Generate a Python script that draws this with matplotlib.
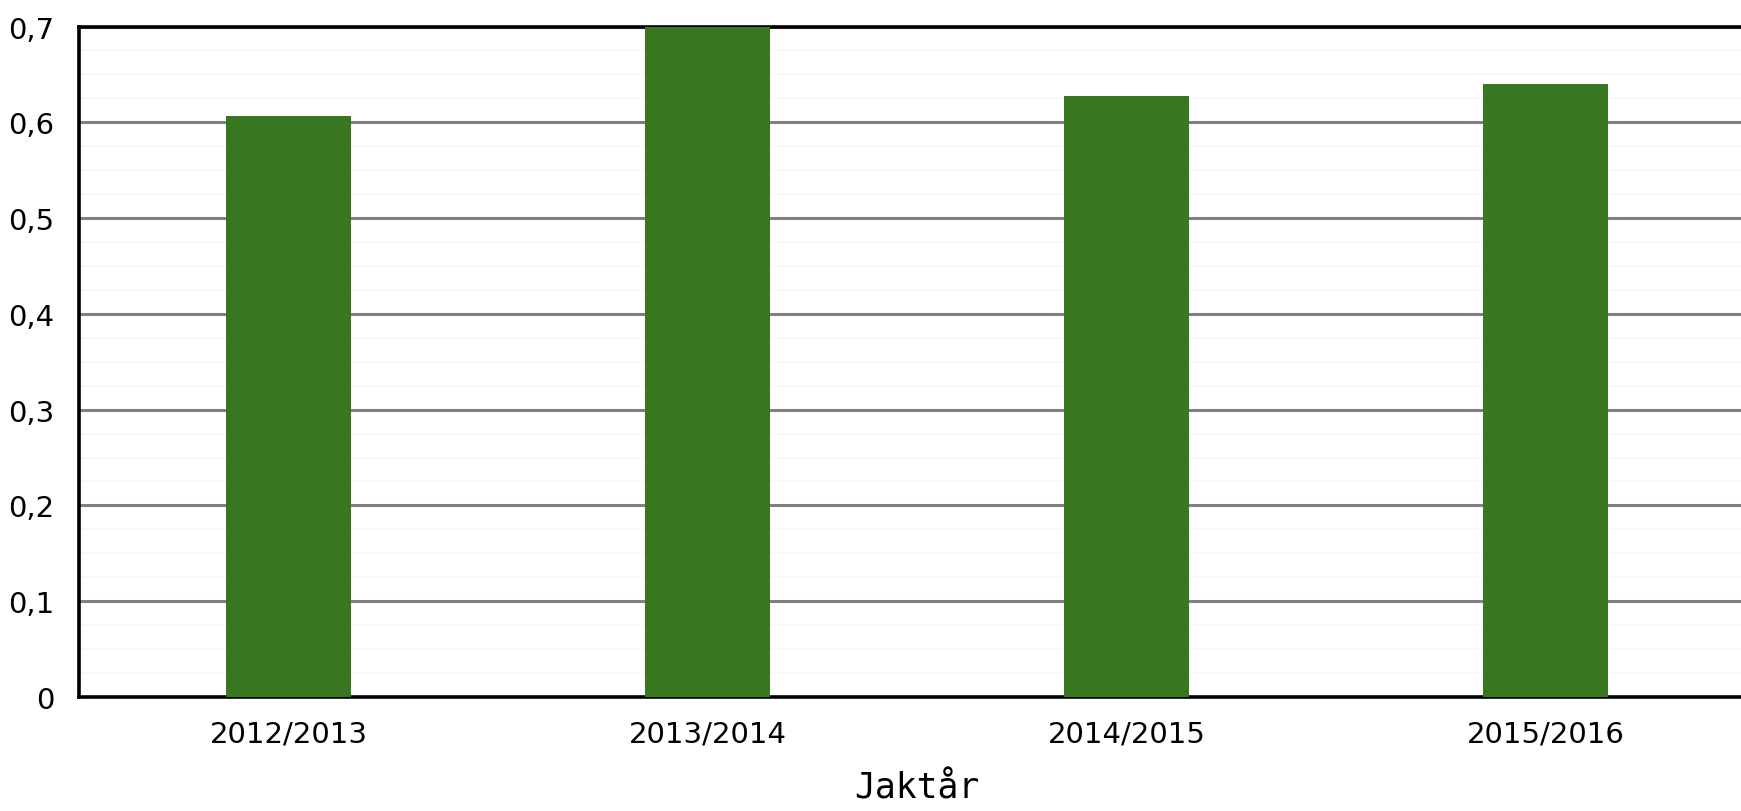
import matplotlib.pyplot as plt
from matplotlib.ticker import FuncFormatter, MultipleLocator
import numpy as np

# jaktår och värden
seasons = ["2012/2013", "2013/2014", "2014/2015", "2015/2016"]
values = [0.607, 0.71, 0.627, 0.640]

fig = plt.figure(figsize=(17.41, 8.12), dpi=100)
ax = fig.add_axes([79 / 1741, 114 / 812, 1676 / 1741, 670.5 / 812])

x = np.arange(len(seasons))
ax.bar(x, values, width=0.3, color="#38761f", zorder=3)

ax.set_xlim(-0.5, 3.5)
ax.set_ylim(0, 0.7)
ax.yaxis.set_major_locator(MultipleLocator(0.1))
ax.yaxis.set_minor_locator(MultipleLocator(0.025))
ax.yaxis.set_major_formatter(FuncFormatter(lambda v, p: "0" if v == 0 else f"{v:.1f}".replace(".", ",")))

# rutnät
ax.grid(axis="y", which="major", color="#808080", linewidth=2.2, zorder=1)
ax.grid(axis="y", which="minor", color="#f8f8f8", linewidth=1.2, zorder=0)

ax.set_xticks(x)
ax.set_xticklabels(seasons)
ax.tick_params(axis="both", which="both", length=0, labelsize=21)
ax.tick_params(axis="x", pad=16)
ax.tick_params(axis="y", pad=18)

for s in ["left", "top", "bottom"]:
    ax.spines[s].set_linewidth(2.6)
    ax.spines[s].set_color("black")
ax.spines["right"].set_visible(False)

ax.set_xlabel("Jaktår", fontsize=25, family="DejaVu Sans Mono", labelpad=17)

fig.savefig("out.png", dpi=100)
